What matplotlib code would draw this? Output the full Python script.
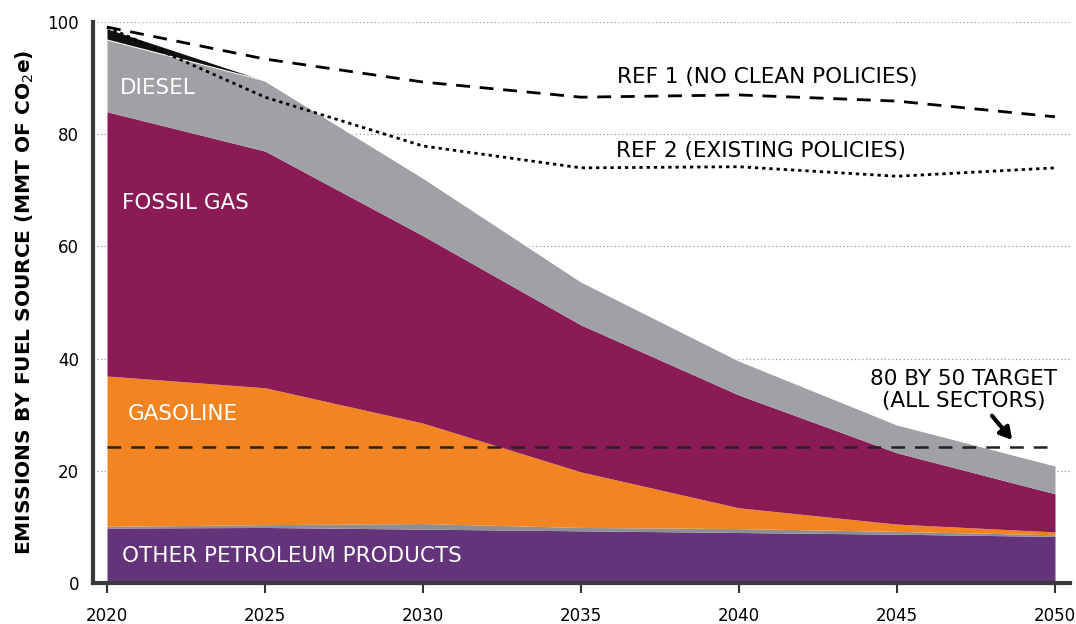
import matplotlib
matplotlib.use("Agg")
import matplotlib.pyplot as plt
import numpy as np

years = [2020, 2025, 2030, 2035, 2040, 2045, 2050]
other_petroleum = [9.8, 9.9, 9.6, 9.3, 9.0, 8.7, 8.3]
other_minor = [0.3, 0.5, 1.0, 0.6, 0.7, 0.5, 0.3]
gasoline_top = [36.9, 34.8, 28.5, 19.8, 13.4, 10.5, 9.1]
fossil_gas_top = [84.0, 77.0, 61.9, 46.0, 33.5, 23.2, 15.9]
diesel_top = [96.8, 89.5, 72.2, 53.7, 39.6, 28.2, 20.9]
black_top = [98.8, 89.5, 72.2, 53.7, 39.6, 28.2, 20.9]
ref1 = [99.1, 93.4, 89.3, 86.6, 87.0, 85.9, 83.1]
ref2 = [99.1, 86.6, 77.9, 74.0, 74.2, 72.5, 74.0]
target = 24.2
yticks = [0, 20, 40, 60, 80, 100]
xticks = [2020, 2025, 2030, 2035, 2040, 2045, 2050]

plt.rcParams['font.family'] = ['DejaVu Sans']

fig = plt.figure(figsize=(10.76, 6.24), dpi=100)
ax = fig.add_axes([93/1076, 41/624, (1070-93)/1076, (583-22)/624])

y = np.array(years)
op = np.array(other_petroleum)
om = op + np.array(other_minor)

ax.fill_between(y, 0, op, color='#633479', lw=0)
ax.fill_between(y, op, om, color='#8f8f92', lw=0)
ax.fill_between(y, om, gasoline_top, color='#f28422', lw=0)
ax.fill_between(y, gasoline_top, fossil_gas_top, color='#8b1b56', lw=0)
ax.fill_between(y, fossil_gas_top, diesel_top, color='#a0a1a4', lw=0)
ax.fill_between(y, diesel_top, black_top, color='#111111', lw=0)
ax.plot(y, diesel_top, color='white', lw=0.8)

for v in yticks[1:]:
    ax.axhline(v, color='#9a9a9a', lw=0.9, ls=(0, (1, 2)), zorder=0.5)

ax.plot(y, ref1, color='black', lw=2, ls=(0, (5, 3.5)))
ax.plot(y, ref2, color='black', lw=2, ls=(0, (1.2, 1.4)))
ax.plot([2020, 2050], [target, target], color='#222222', lw=1.8, ls=(0, (5.5, 4)))

ax.set_xlim(2020 - 14/31.6, 2050 + 15/31.6)
ax.set_ylim(0, 100)
ax.set_xticks(xticks)
ax.set_yticks(yticks)
ax.tick_params(axis='x', length=7, width=1.5, color='#333333', labelsize=12, pad=10)
ax.tick_params(axis='y', length=0, labelsize=12, pad=10)
for s in ['top', 'right']:
    ax.spines[s].set_visible(False)
for s in ['left', 'bottom']:
    ax.spines[s].set_linewidth(3)
    ax.spines[s].set_color('#3a3a3a')

ax.set_ylabel('EMISSIONS BY FUEL SOURCE (MMT OF CO$_2$e)', fontsize=14.5,
              fontweight='bold', labelpad=8)

tk = dict(color='white', fontsize=15.5, va='center', ha='left')
ax.text(2020.42, 88.2, 'DIESEL', **tk)
ax.text(2020.48, 67.7, 'FOSSIL GAS', **tk)
ax.text(2020.67, 30.1, 'GASOLINE', **tk)
ax.text(2020.48, 4.8, 'OTHER PETROLEUM PRODUCTS', **tk)

ax.text(2040.9, 90.2, 'REF 1 (NO CLEAN POLICIES)', fontsize=15.5, ha='center', va='center')
ax.text(2040.7, 77.0, 'REF 2 (EXISTING POLICIES)', fontsize=15.5, ha='center', va='center')
ax.text(2047.1, 34.4, '80 BY 50 TARGET\n(ALL SECTORS)', fontsize=15.5, ha='center',
        va='center', linespacing=1.15)
ax.annotate('', xy=(2048.7, 25.1), xytext=(2047.95, 30.2),
            arrowprops=dict(arrowstyle='-|>,head_width=0.4,head_length=0.7',
                            color='black', lw=3))

fig.savefig('out.png', dpi=100)
